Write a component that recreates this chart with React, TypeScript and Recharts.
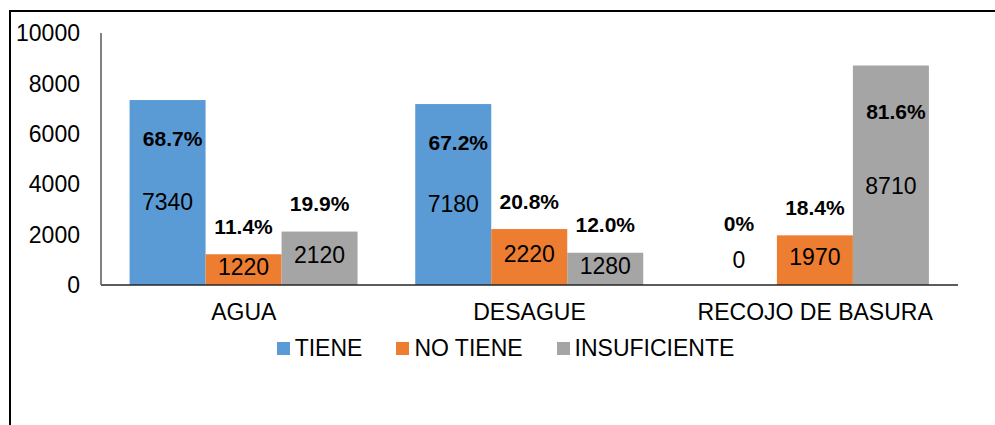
import { BarChart, Bar, XAxis, YAxis, Legend } from 'recharts'

const categories = ['AGUA', 'DESAGUE', 'RECOJO DE BASURA']
const tiene = [7340, 7180, 0]
const noTiene = [1220, 2220, 1970]
const insuficiente = [2120, 1280, 8710]
const tienePct = ['68.7%', '67.2%', '0%']
const noTienePct = ['11.4%', '20.8%', '18.4%']
const insuficientePct = ['19.9%', '12.0%', '81.6%']
const yTicks = [0, 2000, 4000, 6000, 8000, 10000]

const FONT = '"Liberation Sans", Arial, sans-serif'
const C = { blue: '#5B9BD5', orange: '#ED7D31', gray: '#A5A5A5' }

const data = categories.map((name, i) => ({
  name, tiene: tiene[i], noTiene: noTiene[i], insuficiente: insuficiente[i],
}))

const series = [
  { key: 'tiene', label: 'TIENE', color: C.blue, pct: tienePct },
  { key: 'noTiene', label: 'NO TIENE', color: C.orange, pct: noTienePct },
  { key: 'insuficiente', label: 'INSUFICIENTE', color: C.gray, pct: insuficientePct },
]

// bar + its two labels: value near the middle, percent inside the top of tall bars or above short ones
const barShape = (key: string, color: string, pct: string[]) => (props: any) => {
  const { x, y, width, height, index, payload } = props
  const value = payload?.[key] ?? 0
  const cx = Number(x) + Number(width) / 2
  const top = Number(y)
  const h = Math.max(0, Number(height) || 0)
  const tall = h > 150
  const vy = value === 0 ? top - 25 : tall ? top + h * 0.55 : top + h / 2 - 3
  const py = tall ? top + h * 0.21 : value === 0 ? top - 62 : top - 28
  return (
    <g>
      {h > 0 && <rect x={x} y={top} width={width} height={h} fill={color} />}
      <text x={cx} y={vy} textAnchor="middle" dominantBaseline="central" fontSize={23} fill="#000" fontFamily={FONT}>{value}</text>
      <text x={cx + (tall ? 5 : 0)} y={py} textAnchor="middle" dominantBaseline="central" fontSize={21} fontWeight="bold" fill="#000" fontFamily={FONT}>{pct[index]}</text>
    </g>
  )
}

function LegendContent() {
  return (
    <div style={{ display: 'flex', justifyContent: 'center', fontFamily: FONT, fontSize: 23, color: '#000', paddingLeft: 16 }}>
      {series.map(s => (
        <div key={s.key} style={{ display: 'flex', alignItems: 'center', margin: '0 17px' }}>
          <span style={{ width: 13, height: 13, background: s.color, marginRight: 5, display: 'inline-block' }} />
          <span>{s.label}</span>
        </div>
      ))}
    </div>
  )
}

export default function App() {
  return (
    <div style={{ position: 'absolute', left: 0, top: 0, width: 995, height: 425, background: '#fff', overflow: 'hidden' }}>
      <div style={{ position: 'absolute', left: 9, top: 10, width: 990, height: 420, borderTop: '2px solid #000', borderLeft: '2px solid #000' }} />
      <div style={{ position: 'absolute', left: 0, top: 0 }}>
        <BarChart width={995} height={425} data={data} barCategoryGap="10%" barGap={0}
          margin={{ top: 33, right: 37, bottom: 110, left: 0 }}>
          <XAxis dataKey="name" tickLine={false} tickSize={0} tickMargin={19} height={30}
            axisLine={{ stroke: '#262626', strokeWidth: 1.5 }}
            tick={{ fontSize: 23, fill: '#000', fontFamily: FONT }} />
          <YAxis domain={[0, 10000]} ticks={yTicks} width={101} tickLine={false} tickSize={0} tickMargin={21}
            axisLine={{ stroke: '#595959', strokeWidth: 1.5 }}
            tick={{ fontSize: 23, fill: '#000', fontFamily: FONT }} />
          <Legend verticalAlign="middle" content={<LegendContent />}
            wrapperStyle={{ top: 335, left: 0, width: 995 }} />
          {series.map(s => (
            <Bar key={s.key} dataKey={s.key} name={s.label} fill={s.color} isAnimationActive={false}
              shape={barShape(s.key, s.color, s.pct)} />
          ))}
        </BarChart>
      </div>
    </div>
  )
}
